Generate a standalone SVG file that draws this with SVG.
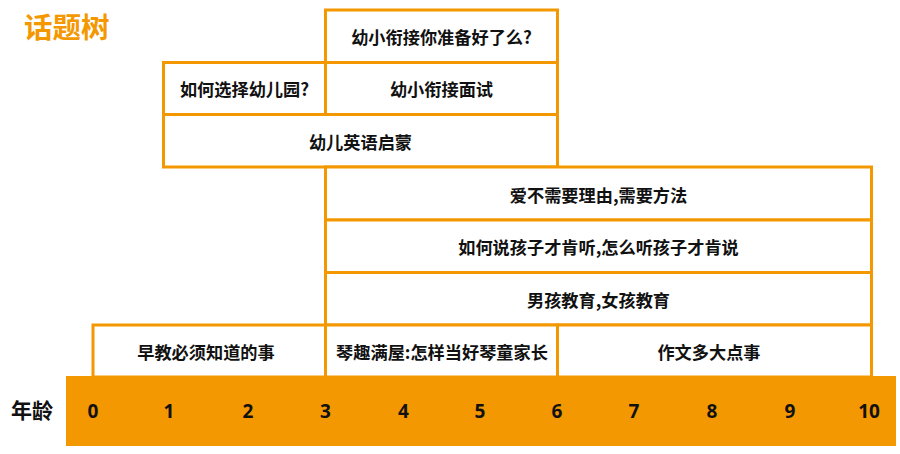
<svg xmlns="http://www.w3.org/2000/svg" width="900" height="454" viewBox="0 0 900 454">
<style>
.box{fill:#ffffff;stroke:#F39800;stroke-width:3}
.lbl{font-family:"Noto Sans CJK SC","Noto Sans",sans-serif;font-weight:bold;font-size:17.2px;fill:#111;text-anchor:middle}
.num{font-family:"Noto Sans","Noto Sans CJK SC",sans-serif;font-weight:bold;font-size:19px;fill:#111;text-anchor:middle}
</style>
<rect width="900" height="454" fill="#ffffff"/>
<text x="24" y="38" font-family="'Noto Sans CJK SC',sans-serif" font-weight="bold" font-size="28.5" fill="#F39800">话题树</text>

<g id="n-a"><rect class="box" x="325.5" y="10" width="232" height="52.5"/><text class="lbl" x="441.5" y="44">幼小衔接你准备好了么?</text></g>
<g id="n-b1"><rect class="box" x="163.5" y="62.5" width="162" height="52"/><text class="lbl" x="244.5" y="96">如何选择幼儿园?</text></g>
<g id="n-b2"><rect class="box" x="325.5" y="62.5" width="232" height="52"/><text class="lbl" x="441.5" y="96">幼小衔接面试</text></g>
<g id="n-c"><rect class="box" x="163.5" y="114.5" width="394" height="52.5"/><text class="lbl" x="360.5" y="149">幼儿英语启蒙</text></g>
<g id="n-d"><rect class="box" x="325.5" y="167" width="546" height="53"/><text class="lbl" x="598.5" y="202">爱不需要理由,需要方法</text></g>
<g id="n-e"><rect class="box" x="325.5" y="220" width="546" height="52.5"/><text class="lbl" x="598.5" y="254">如何说孩子才肯听,怎么听孩子才肯说</text></g>
<g id="n-f"><rect class="box" x="325.5" y="272.5" width="546" height="52.5"/><text class="lbl" x="598.5" y="306.5">男孩教育,女孩教育</text></g>
<g id="n-g1"><rect class="box" x="93" y="325" width="232.5" height="52"/><text class="lbl" x="206" y="358.5">早教必须知道的事</text></g>
<g id="n-g2"><rect class="box" x="325.5" y="325" width="232" height="52"/><text class="lbl" x="442" y="358.5">琴趣满屋:怎样当好琴童家长</text></g>
<g id="n-g3"><rect class="box" x="557.5" y="325" width="314" height="52"/><text class="lbl" x="709" y="358.5">作文多大点事</text></g>

<g id="axis">
<rect x="66" y="376" width="830" height="70" fill="#F39800"/>
<text x="11" y="418" font-family="'Noto Sans CJK SC',sans-serif" font-weight="bold" font-size="21" fill="#111">年龄</text>
<text class="num" x="93" y="418">0</text>
<text class="num" x="169" y="418">1</text>
<text class="num" x="248" y="418">2</text>
<text class="num" x="325.5" y="418">3</text>
<text class="num" x="403.5" y="418">4</text>
<text class="num" x="480" y="418">5</text>
<text class="num" x="557" y="418">6</text>
<text class="num" x="634" y="418">7</text>
<text class="num" x="712" y="418">8</text>
<text class="num" x="790" y="418">9</text>
<text class="num" x="869" y="418">10</text>
</g>
<g id="connectors"></g>
</svg>
